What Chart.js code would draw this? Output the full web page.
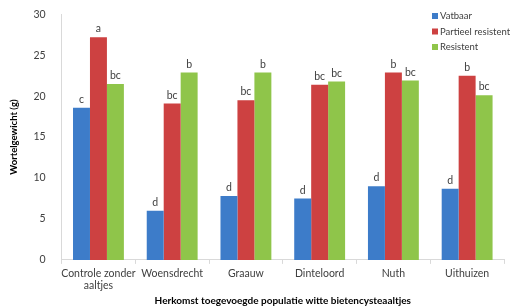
<!DOCTYPE html>
<html>
<head>
<meta charset="utf-8">
<script src="https://cdn.jsdelivr.net/npm/chart.js@4.4.1/dist/chart.umd.min.js"></script>
<style>
html,body{margin:0;padding:0;background:#fff;}
#wrap{width:511px;height:307px;position:relative;}
</style>
</head>
<body>
<div id="wrap"><canvas id="c" width="511" height="307"></canvas></div>
<script>
const categories = [["Controle zonder","aaltjes"],"Woensdrecht","Graauw","Dinteloord","Nuth","Uithuizen"];
const seriesNames = ["Vatbaar","Partieel resistent","Resistent"];
const vatbaar = [18.6, 6.0, 7.8, 7.5, 9.0, 8.7];
const partieel = [27.2, 19.1, 19.5, 21.4, 22.9, 22.5];
const resistent = [21.5, 22.9, 22.9, 21.8, 21.9, 20.1];
const lettersVatbaar = ["c","d","d","d","d","d"];
const lettersPartieel = ["a","bc","bc","bc","b","b"];
const lettersResistent = ["bc","b","b","bc","bc","bc"];
const yTicks = [0,5,10,15,20,25,30];
const colors = ["#3d7cc9","#cd4141","#8fc54a"];
const FONT = 'Lato, "Open Sans", sans-serif';

const letterPlugin = {
  id:'letters',
  afterDatasetsDraw(chart){
    const ctx = chart.ctx;
    const sets = [lettersVatbaar, lettersPartieel, lettersResistent];
    ctx.save();
    ctx.font = '10.5px ' + FONT;
    ctx.fillStyle = '#404040';
    ctx.textAlign = 'center';
    ctx.textBaseline = 'bottom';
    chart.data.datasets.forEach((ds,i)=>{
      const meta = chart.getDatasetMeta(i);
      meta.data.forEach((bar,j)=>{
        ctx.fillText(sets[i][j], bar.x, bar.y - 3);
      });
    });
    ctx.restore();
  }
};

const legendPlugin = {
  id:'customLegend',
  afterDraw(chart){
    const ctx = chart.ctx;
    ctx.save();
    ctx.font = '9.5px ' + FONT;
    ctx.textBaseline = 'middle';
    chart.data.datasets.forEach((ds,i)=>{
      const y = 16 + i*15.5;
      ctx.fillStyle = ds.backgroundColor;
      ctx.fillRect(432, y-3, 6, 6);
      ctx.fillStyle = '#404040';
      ctx.fillText(ds.label, 440, y);
    });
    ctx.restore();
  }
};

new Chart(document.getElementById('c'), {
  type:'bar',
  data:{
    labels: categories,
    datasets:[
      {label:seriesNames[0], data:vatbaar, backgroundColor:colors[0]},
      {label:seriesNames[1], data:partieel, backgroundColor:colors[1]},
      {label:seriesNames[2], data:resistent, backgroundColor:colors[2]}
    ]
  },
  options:{
    responsive:false,
    animation:false,
    devicePixelRatio:1,
    layout:{padding:{left:8,right:7,top:7,bottom:0}},
    datasets:{bar:{categoryPercentage:0.69, barPercentage:1.0}},
    plugins:{legend:{display:false}, tooltip:{enabled:false}},
    scales:{
      x:{
        grid:{drawOnChartArea:false, color:'#d9d9d9', tickLength:4, offset:true},
        border:{color:'#d9d9d9'},
        ticks:{color:'#404040', font:{family:FONT, size:10.5, lineHeight:1.1}, padding:4, maxRotation:0, autoSkip:false},
        title:{display:true, text:'Herkomst toegevoegde populatie witte bietencysteaaltjes', color:'#000', font:{family:FONT, size:10, weight:'bold', lineHeight:1.2}, padding:{top:0,bottom:0}}
      },
      y:{
        min:0, max:30,
        afterBuildTicks(axis){ axis.ticks = yTicks.map(v=>({value:v})); },
        grid:{display:false},
        border:{color:'#d9d9d9'},
        ticks:{color:'#404040', font:{family:FONT, size:10.5}, padding:8},
        title:{display:true, text:'Wortelgewicht (g)', color:'#000', font:{family:FONT, size:9.5, weight:'bold'}, padding:{top:0,bottom:6}}
      }
    }
  },
  plugins:[letterPlugin, legendPlugin]
});
</script>
</body>
</html>
